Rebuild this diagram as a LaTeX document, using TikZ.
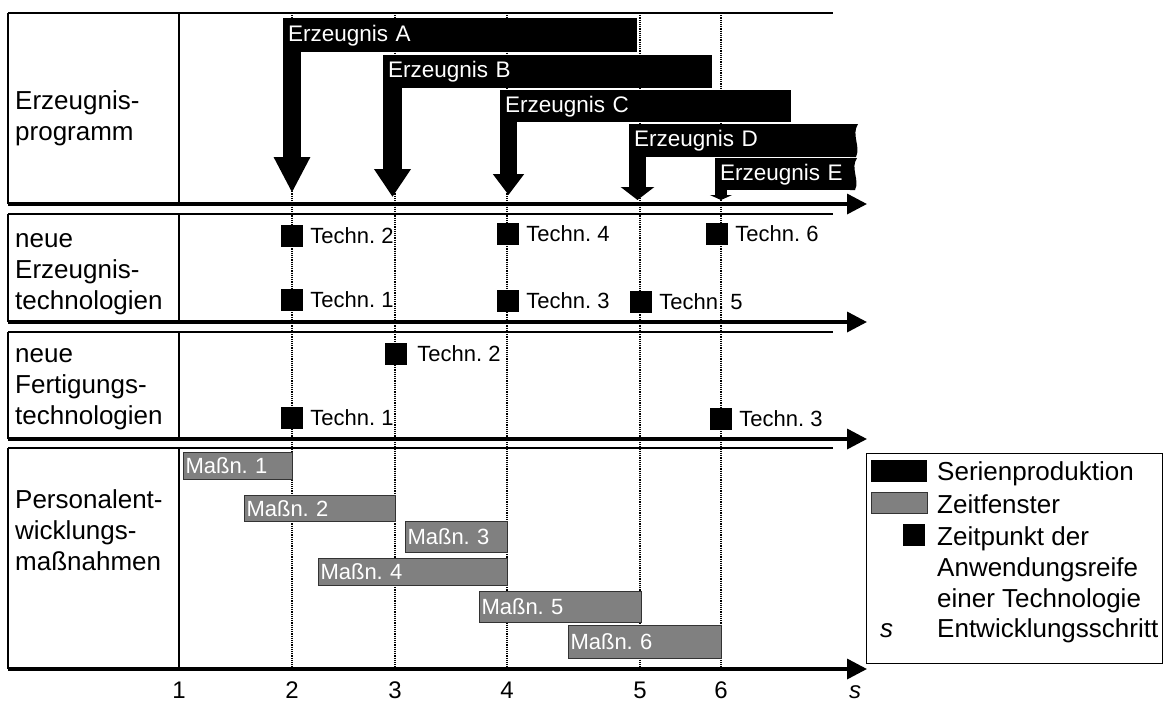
\documentclass[tikz,border=0pt]{standalone}
\usepackage{fontspec}
\setmainfont{Liberation Sans}
\usetikzlibrary{arrows.meta, positioning}
\definecolor{windowgray}{HTML}{808080}
\definecolor{framegray}{HTML}{333333}
\frenchspacing

\begin{document}
\begin{tikzpicture}[x=1pt, y=-1pt,
    node distance=7pt,
    rowlbl/.style={anchor=base west, align=left, inner sep=0pt, font=\fontsize{26}{31}\selectfont},
    prodbar/.style={fill=black, text=white, anchor=north west, inner xsep=5pt, inner ysep=0pt, align=left, font=\fontsize{22.5}{25}\selectfont},
    windowbar/.style={fill=windowgray, draw=framegray, line width=1pt, text=white, anchor=north west, inner xsep=2pt, inner ysep=0pt, align=left, font=\fontsize{22}{25}\selectfont},
    techsq/.style={fill=black, minimum size=22pt, inner sep=0pt},
    techlbl/.style={inner sep=0pt, font=\fontsize{22}{25}\selectfont},
    prodarrow/.style n args={3}{line width=#1, -{Triangle[width=#2, length=#3]}},
    timeaxis/.style={line width=3.5pt, -{Triangle[width=20pt, length=20pt]}},
    rowline/.style={line width=1.3pt},
    stepline/.style={line width=1.3pt, dash pattern=on 1.2pt off 1pt},
    ticklbl/.style={anchor=base, inner sep=0pt, font=\fontsize{24}{28}\selectfont},
    leglbl/.style={anchor=base west, align=left, inner sep=0pt, font=\fontsize{26}{31}\selectfont},
]
    \useasboundingbox (0,0) rectangle (1163,702);

    % development steps
    \foreach \x in {292,395,507,640,721}
        \draw[stepline] (\x,13) -- (\x,669);

    % rows with time axes
    \foreach \top/\bot in {13/204, 214/322, 332/439, 448/669} {
        \draw[rowline] (8,\top) -- (833,\top);
        \draw[rowline] (8,\top) -- (8,\bot);
        \draw[rowline] (179,\top) -- (179,\bot);
        \draw[timeaxis] (8,\bot) -- (867,\bot);
    }

    % (base = last line)
    \node[rowlbl] (lprog) at (15,140) {Erzeugnis-\\programm};
    \node[rowlbl] (lprodtech) at (15,309) {neue\\Erzeugnis-\\technologien};
    \node[rowlbl] (lmfgtech) at (15,424) {neue\\Fertigungs-\\technologien};
    \node[rowlbl] (lstaff) at (15,570) {Personalent-\\wicklungs-\\maßnahmen};

    % series production
    \node[prodbar, text width=344pt, minimum height=34pt] (erzA) at (283,18) {Erzeugnis A};
    \node[prodbar, text width=319pt, minimum height=33pt] (erzB) at (383,55) {Erzeugnis B};
    \node[prodbar, text width=281pt, minimum height=32pt] (erzC) at (500,90) {Erzeugnis C};
    \node[prodbar, text width=212pt, minimum height=33pt] (erzD) at (629,124) {Erzeugnis D};
    \node[prodbar, text width=126pt, minimum height=32pt] (erzE) at (715,158) {Erzeugnis E};
    \fill (850,124) -- (858,124) .. controls (851,135) and (861,146) .. (856,157) -- (850,157) -- cycle;
    \fill (850,158) -- (857,158) .. controls (850,168) and (860,180) .. (855,190) -- (850,190) -- cycle;

    \coordinate (tA) at (292,193);
    \coordinate (tB) at (392.5,197);
    \coordinate (tC) at (508.5,195);
    \coordinate (tD) at (637.5,200);
    \coordinate (tE) at (721,200);
    \draw[prodarrow={18pt}{34pt}{36pt}] ([xshift=9pt, yshift=1pt]erzA.south west) -- (tA);
    \draw[prodarrow={19pt}{35pt}{28pt}] ([xshift=9.5pt, yshift=1pt]erzB.south west) -- (tB);
    \draw[prodarrow={17pt}{30pt}{21pt}] ([xshift=8.5pt, yshift=1pt]erzC.south west) -- (tC);
    \draw[prodarrow={17pt}{33pt}{13pt}] ([xshift=8.5pt, yshift=1pt]erzD.south west) -- (tD);
    \draw[prodarrow={12pt}{22pt}{5pt}] ([xshift=6pt, yshift=1pt]erzE.south west) -- (tE);

    % new product technologies
    \node[techsq] (pt1) at (292,300) {};
    \node[techsq] (pt2) at (292,236) {};
    \node[techsq] (pt3) at (508,301) {};
    \node[techsq] (pt4) at (508,234) {};
    \node[techsq] (pt5) at (641,302) {};
    \node[techsq] (pt6) at (717,234) {};
    \node[techlbl, right=of pt1] (pt1l) {Techn. 1};
    \node[techlbl, right=of pt2] (pt2l) {Techn. 2};
    \node[techlbl, right=of pt3] (pt3l) {Techn. 3};
    \node[techlbl, right=of pt4] (pt4l) {Techn. 4};
    \node[techlbl, right=of pt5] (pt5l) {Techn. 5};
    \node[techlbl, right=of pt6] (pt6l) {Techn. 6};

    % new manufacturing technologies
    \node[techsq] (mt1) at (292,418) {};
    \node[techsq] (mt2) at (396,354) {};
    \node[techsq] (mt3) at (721,419) {};
    \node[techlbl, right=of mt1] (mt1l) {Techn. 1};
    \node[techlbl, right=10pt of mt2] (mt2l) {Techn. 2};
    \node[techlbl, right=of mt3] (mt3l) {Techn. 3};

    % staff development
    \node[windowbar, text width=105pt, minimum height=27pt] (m1) at (183,452) {Maßn. 1};
    \node[windowbar, text width=147pt, minimum height=26pt] (m2) at (244,495) {Maßn. 2};
    \node[windowbar, text width=98pt, minimum height=31pt] (m3) at (405,521) {Maßn. 3};
    \node[windowbar, text width=185pt, minimum height=27pt] (m4) at (318,558) {Maßn. 4};
    \node[windowbar, text width=158pt, minimum height=31pt] (m5) at (479,591) {Maßn. 5};
    \node[windowbar, text width=149pt, minimum height=33pt] (m6) at (568,625) {Maßn. 6};

    % step numbers
    \foreach \x/\n in {179/1, 292/2, 395/3, 507/4, 640/5, 721/6}
        \node[ticklbl] (tick\n) at (\x,698) {\n};
    \node[ticklbl, font=\fontsize{24}{28}\selectfont\itshape] (ticks) at (855,698) {s};

    % legend
    \node[draw, line width=1.3pt, anchor=north west, minimum width=296pt, minimum height=210pt, inner sep=0pt] (legend) at (866,453) {};
    \node[fill=black, anchor=north west, minimum width=56pt, minimum height=22pt, inner sep=0pt] (keyser) at (871,460) {};
    \node[fill=windowgray, draw=framegray, line width=1pt, anchor=north west, minimum width=56pt, minimum height=21pt, inner sep=0pt] (keywin) at (871,492) {};
    \node[techsq] (keytech) at (913.5,535) {};
    \node[leglbl] (lser) at (937,480) {Serienproduktion};
    \node[leglbl] (lwin) at (937,513) {Zeitfenster};
    \node[leglbl] (ltech) at (937,607) {Zeitpunkt der\\Anwendungsreife\\einer Technologie};
    \node[leglbl, font=\fontsize{26}{31}\selectfont\itshape] (lsym) at (880,637) {s};
    \node[leglbl] (lstep) at (937,637) {Entwicklungsschritt};
\end{tikzpicture}
\end{document}
